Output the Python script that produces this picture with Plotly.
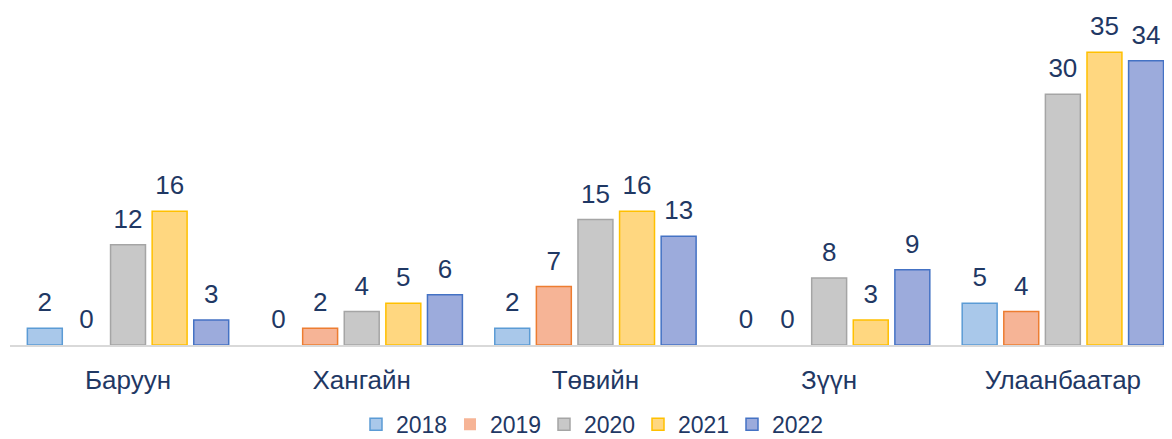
import plotly.graph_objects as go

categories = ["Баруун", "Хангайн", "Төвийн", "Зүүн", "Улаанбаатар"]
years = ["2018", "2019", "2020", "2021", "2022"]
v2018 = [2, 0, 2, 0, 5]
v2019 = [0, 2, 7, 0, 4]
v2020 = [12, 4, 15, 8, 30]
v2021 = [16, 5, 16, 3, 35]
v2022 = [3, 6, 13, 9, 34]
series = [v2018, v2019, v2020, v2021, v2022]

fills = ["#A9C8EA", "#F6B496", "#C8C8C8", "#FFD780", "#9CABDC"]
borders = ["#5B9BD5", "#ED7D31", "#A5A5A5", "#FFC000", "#4472C4"]
navy = "#1F3864"
font = "Liberation Sans, Arial, sans-serif"
label_pad = 0.95  # gap (in axis units) between bar top and its value label

fig = go.Figure()
for name, vals, fc, bc in zip(years, series, fills, borders):
    fig.add_trace(go.Bar(
        name=name, x=categories, y=vals, offsetgroup=name,
        marker=dict(color=fc, line=dict(color=bc, width=[0 if v == 0 else 1.5 for v in vals])),
        hoverinfo="x+y",
    ))
    # transparent spacer carrying the value label above each bar
    fig.add_trace(go.Bar(
        name=name, x=categories, y=[label_pad] * len(vals), base=vals, offsetgroup=name,
        marker=dict(color="rgba(0,0,0,0)", line=dict(width=0)),
        text=[str(v) for v in vals], textposition="outside", cliponaxis=False,
        textfont=dict(size=26, color=navy, family=font),
        showlegend=False, hoverinfo="skip",
    ))

# page has an 8px body margin, so the figure is sized to the remaining area
fig.update_layout(
    width=1164, height=431,
    margin=dict(l=2, r=0, t=0, b=94, autoexpand=False),
    barmode="group", bargap=0.11, bargroupgap=0.16,
    plot_bgcolor="white", paper_bgcolor="white",
    font=dict(family=font, color=navy),
    showlegend=True,
    legend=dict(orientation="h", x=0.5, xanchor="center", yref="container",
                y=0.034, yanchor="middle", font=dict(size=23, color=navy, family=font),
                itemwidth=30, entrywidth=49, tracegroupgap=0),
    xaxis=dict(showline=True, linecolor="#D9D9D9", linewidth=1.5, ticks="",
               range=[-0.505, 4.467],
               tickfont=dict(size=26, color=navy, family=font), ticklabelstandoff=11),
    yaxis=dict(range=[0, 40.3], visible=False, showgrid=False, zeroline=False),
)

fig.write_html("out.html")
